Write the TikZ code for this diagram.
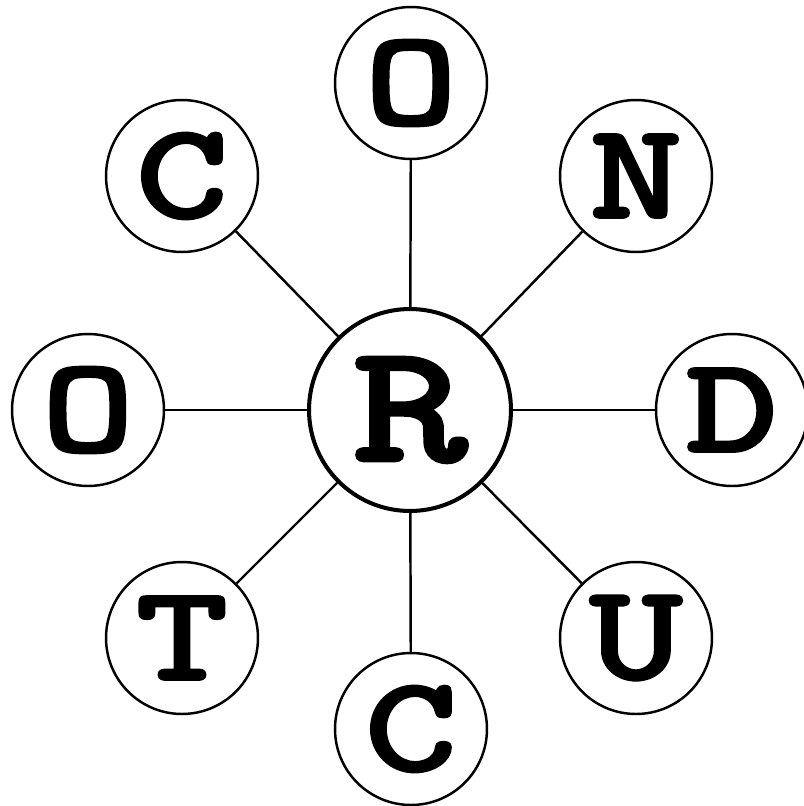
\documentclass[tikz,border=0pt]{standalone}
\usepackage{fontspec}
\newfontfamily\letterfont{lmmonolt10-bold.otf}[FakeStretch=1.3, FakeBold=1.5]
\usetikzlibrary{positioning}

\begin{document}
\begin{tikzpicture}[
    x=0.02cm, y=-0.02cm,
    leaf/.style={draw, circle, line width=1.4pt, minimum size=3.04cm,
                 inner sep=0pt, font=\letterfont\fontsize{78}{78}\selectfont},
    hub/.style={draw, circle, line width=2.3pt, minimum size=4.04cm,
                inner sep=0pt, font=\letterfont\fontsize{97}{97}\selectfont},
    spoke/.style={line width=1.4pt}
]
    \useasboundingbox (0,0) rectangle (804,806);

    \node[hub] (hub) at (410,410) {R};

    \node[leaf] (otop) at (411,83) {O};
    \node[leaf] (n) at (636,176) {N};
    \node[leaf] (d) at (732,410) {D};
    \node[leaf] (u) at (636,638) {U};
    \node[leaf] (cbot) at (411,729) {C};
    \node[leaf] (t) at (182,638) {T};
    \node[leaf] (oleft) at (88,410) {O};
    \node[leaf] (ctop) at (182,176) {C};

    \foreach \leaf in {otop, n, d, u, cbot, t, oleft, ctop}
        \draw[spoke] (hub) -- (\leaf);
\end{tikzpicture}
\end{document}
